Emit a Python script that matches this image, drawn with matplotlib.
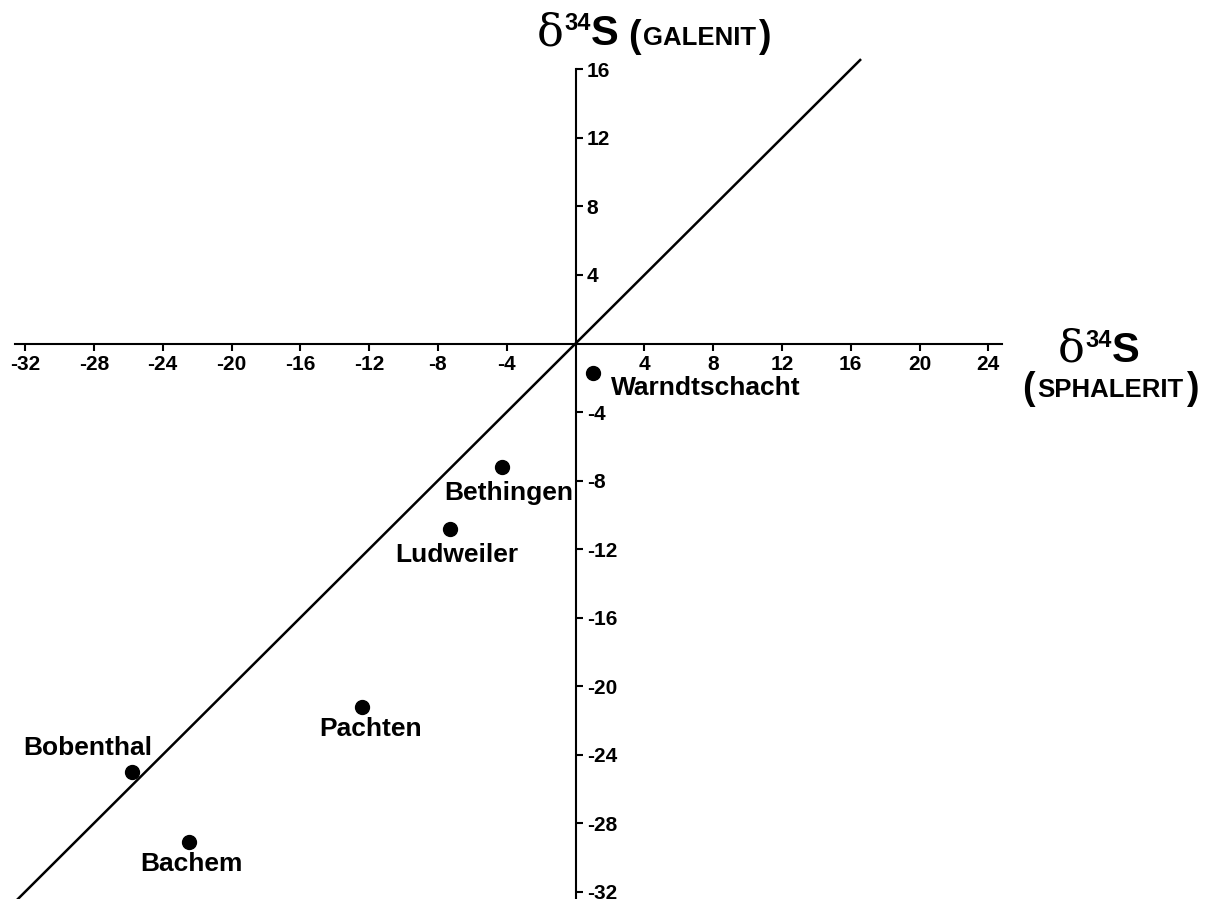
import matplotlib.pyplot as plt
from matplotlib.transforms import IdentityTransform

# delta34S values (sphalerite on x, galena on y)
names = ['Warndtschacht', 'Bethingen', 'Ludweiler', 'Pachten', 'Bobenthal', 'Bachem']
sphalerit = [1.0, -4.3, -7.3, -12.4, -25.8, -22.5]
galenit = [-1.7, -7.2, -10.8, -21.2, -25.0, -29.1]

# 1:1 line
diag_x = [-34.0, 16.6]
diag_y = [-34.0, 16.6]

xticks = [-32, -28, -24, -20, -16, -12, -8, -4, 4, 8, 12, 16, 20, 24]
yticks = [16, 12, 8, 4, -4, -8, -12, -16, -20, -24, -28, -32]

# label offsets in points (dx, dy) and alignment
label_off = [(13, -11), (5, -19), (5, -19), (6, -16), (-32, 17), (2, -16)]
label_ha = ['left', 'center', 'center', 'center', 'center', 'center']

plt.rcParams['font.family'] = ['Liberation Sans', 'DejaVu Sans']

fig = plt.figure(figsize=(12.14, 8.99), dpi=100)
ax = fig.add_axes([0, 0, 1, 1])
ax.set_xlim(-33.46, 37.12)
ax.set_ylim(-32.42, 20.05)

ax.spines['top'].set_visible(False)
ax.spines['left'].set_visible(False)
ax.spines['bottom'].set_position(('data', 0))
ax.spines['right'].set_position(('data', 0))
ax.spines['bottom'].set_bounds(-32.6, 24.8)
ax.spines['right'].set_bounds(-33, 16)
ax.spines['bottom'].set_linewidth(1.5)
ax.spines['right'].set_linewidth(1.5)

ax.xaxis.set_ticks_position('bottom')
ax.yaxis.set_ticks_position('right')
ax.set_xticks(xticks)
ax.set_yticks(yticks)
ax.set_xticklabels([str(v) for v in xticks])
ax.set_yticklabels([str(v) for v in yticks])
ax.tick_params(axis='both', direction='out', length=5, width=1.5, labelsize=15, pad=3)
for lab in ax.get_xticklabels() + ax.get_yticklabels():
    lab.set_fontweight('bold')

ax.plot(diag_x, diag_y, color='black', lw=1.8, solid_capstyle='butt')
ax.plot(sphalerit, galenit, 'o', color='black', ms=10)

for n, xv, yv, off, ha in zip(names, sphalerit, galenit, label_off, label_ha):
    ax.annotate(n, (xv, yv), xytext=off, textcoords='offset points',
                ha=ha, va='center', fontsize=19, fontweight='bold')


def stack_text(x, y, pieces):
    renderer = fig.canvas.get_renderer()
    for s, size, fam, weight, dy, gap in pieces:
        t = fig.text(x, y + dy, s, transform=IdentityTransform(), fontsize=size,
                     family=fam, fontweight=weight, ha='left', va='baseline')
        bb = t.get_window_extent(renderer)
        x = bb.x1 + gap


serif = ['DejaVu Serif']
sans = ['Liberation Sans', 'DejaVu Sans']

# top label: delta34S (GALENIT)
stack_text(537, 854, [
    ('δ', 32, serif, 'normal', 0, 1),
    ('34', 17, sans, 'bold', 15, 0),
    ('S', 30, sans, 'bold', 0, 9),
    ('(', 27, sans, 'bold', -2, 3),
    ('GALENIT', 18.5, sans, 'bold', 0, 2),
    (')', 27, sans, 'bold', -2, 0),
])

# right label: delta34S / (SPHALERIT)
stack_text(1058, 537, [
    ('δ', 32, serif, 'normal', 0, 1),
    ('34', 17, sans, 'bold', 15, 0),
    ('S', 30, sans, 'bold', 0, 0),
])
stack_text(1022, 502, [
    ('(', 27, sans, 'bold', -2, 3),
    ('SPHALERIT', 18.5, sans, 'bold', 0, 2),
    (')', 27, sans, 'bold', -2, 0),
])

fig.savefig('out.png', dpi=100)
